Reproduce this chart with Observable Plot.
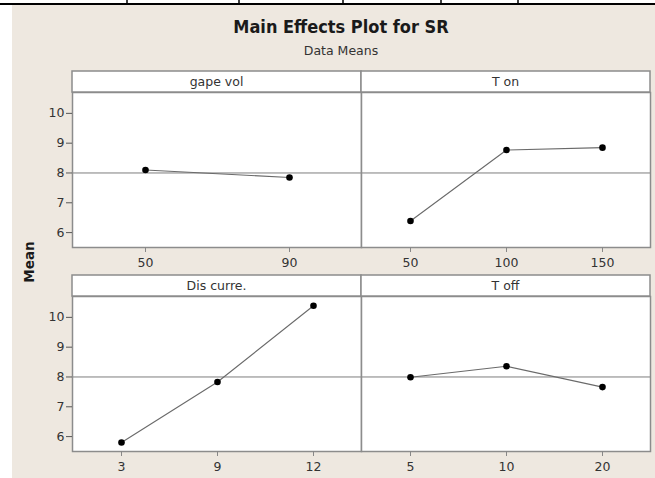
<!DOCTYPE html>
<html>
<head>
<meta charset="utf-8">
<script src="https://cdn.jsdelivr.net/npm/d3@7"></script>
<script src="https://cdn.jsdelivr.net/npm/@observablehq/plot@0.6"></script>
<style>
  body { margin: 0; background: #fff; }
  #root { position: relative; width: 655px; height: 478px; overflow: hidden; background: #fff; }
  .abs { position: absolute; }
</style>
</head>
<body>
<div id="root"></div>
<script>
// ---- data ----
const title = "Main Effects Plot for SR";
const subtitle = "Data Means";
const yLabel = "Mean";
const factors = ["gape vol", "T on", "Dis curre.", "T off"];
const gapeVolLevels = ["50", "90"];
const gapeVolMeans = [8.10, 7.85];
const tOnLevels = ["50", "100", "150"];
const tOnMeans = [6.39, 8.77, 8.85];
const disCurreLevels = ["3", "9", "12"];
const disCurreMeans = [5.80, 7.83, 10.39];
const tOffLevels = ["5", "10", "20"];
const tOffMeans = [7.99, 8.36, 7.66];
const grandMean = 8.0;
const yTicks = [6, 7, 8, 9, 10];
const yDomain = [5.5, 10.7];

// ---- page decoration (background, title) ----
const root = document.getElementById("root");
const bg = d3.select(root).append("svg")
  .attr("class", "abs").style("left", "0px").style("top", "0px")
  .attr("width", 655).attr("height", 478);
bg.append("rect").attr("x", 12).attr("y", 5).attr("width", 643).attr("height", 473).attr("fill", "#eee8e0");
bg.append("line").attr("x1", 0).attr("x2", 655).attr("y1", 4).attr("y2", 4).attr("stroke", "#000").attr("stroke-width", 2);
for (const vx of [127, 239, 343, 441, 518]) {
  bg.append("line").attr("x1", vx).attr("x2", vx).attr("y1", 0).attr("y2", 4).attr("stroke", "#000").attr("stroke-width", 1.5);
}
bg.append("text").attr("x", 341).attr("y", 33).attr("text-anchor", "middle")
  .attr("font-family", "'DejaVu Sans Condensed','DejaVu Sans',sans-serif")
  .style("font-stretch", "condensed")
  .attr("font-weight", "bold").attr("font-size", 18).attr("fill", "#1a1a1a").text(title);
bg.append("text").attr("x", 341).attr("y", 55).attr("text-anchor", "middle")
  .attr("font-family", "'DejaVu Sans',sans-serif")
  .attr("font-size", 12.5).attr("fill", "#333").text(subtitle);
bg.append("text").attr("transform", "translate(34,262) rotate(-90)").attr("text-anchor", "middle")
  .attr("font-family", "'DejaVu Sans',sans-serif")
  .attr("font-weight", "bold").attr("font-size", 13.5).attr("fill", "#1a1a1a").text(yLabel);

// ---- panels ----
function panel(name, levels, means, showY) {
  const data = levels.map((l, i) => ({level: l, mean: means[i]}));
  const header = (index, scales, values, dims) => {
    const g = d3.create("svg:g");
    const x0 = dims.marginLeft, x1 = dims.width - dims.marginRight;
    g.append("rect").attr("x", x0).attr("y", dims.marginTop - 21)
      .attr("width", x1 - x0).attr("height", 21)
      .attr("fill", "white").attr("stroke", "#8c8c8c").attr("stroke-width", 1.5);
    g.append("text").attr("x", (x0 + x1) / 2).attr("y", dims.marginTop - 6)
      .attr("text-anchor", "middle").attr("fill", "#333")
      .attr("font-family", "'DejaVu Sans',sans-serif").attr("font-size", 12.5)
      .text(name);
    return g.node();
  };
  return Plot.plot({
    width: showY ? 351 : 294,
    height: 204,
    marginTop: 21,
    marginBottom: 28,
    marginLeft: showY ? 60 : 2,
    marginRight: showY ? 2 : 3,
    style: {background: "transparent", fontFamily: "'DejaVu Sans',sans-serif", fontSize: "12.5px", color: "#333", overflow: "visible"},
    x: {type: "point", domain: levels, padding: 0.5},
    y: {domain: yDomain, axis: null},
    marks: [
      Plot.frame({fill: "white"}),
      Plot.ruleY([grandMean], {stroke: "#7d7d7d", strokeWidth: 1}),
      Plot.line(data, {x: "level", y: "mean", stroke: "#6a6a6a", strokeWidth: 1.1}),
      Plot.dot(data, {x: "level", y: "mean", r: 3.3, fill: "#000", stroke: "none"}),
      Plot.frame({stroke: "#8c8c8c", strokeWidth: 1.5}),
      Plot.axisX({tickSize: 5, tickPadding: 6, label: null, stroke: "#888", fill: "#333"}),
      showY ? Plot.axisY({ticks: yTicks, tickFormat: d => String(d), tickSize: 6, tickPadding: 2, label: null, stroke: "#555", fill: "#333"}) : null,
      header
    ]
  });
}

function place(node, left, top) {
  node.classList.add("abs");
  node.style.left = left + "px";
  node.style.top = top + "px";
  root.appendChild(node);
}

place(panel(factors[0], gapeVolLevels, gapeVolMeans, true), 12, 71);
place(panel(factors[1], tOnLevels, tOnMeans, false), 359, 71);
place(panel(factors[2], disCurreLevels, disCurreMeans, true), 12, 275);
place(panel(factors[3], tOffLevels, tOffMeans, false), 359, 275);
</script>
</body>
</html>
